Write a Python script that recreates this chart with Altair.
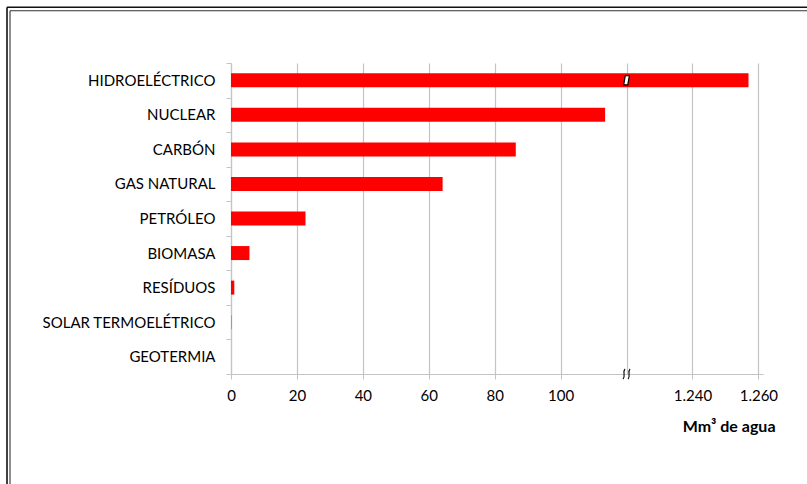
import altair as alt
import pandas as pd

# Water consumption by generation source (Mm³)
categorias = ["HIDROELÉCTRICO", "NUCLEAR", "CARBÓN", "GAS NATURAL", "PETRÓLEO",
              "BIOMASA", "RESÍDUOS", "SOLAR TERMOELÉTRICO", "GEOTERMIA"]
consumo = [1257, 113.5, 86.4, 64.2, 22.6, 5.6, 1.0, 0.1, 0.0]

# Broken x axis: everything past CORTE is drawn shifted left by SALTO
CORTE = 120
SALTO = 1100
marcas_x = list(range(0, 161, 10))

W, H = 532, 311
LEFT, TOP = 231, 63
FONT = "Lato"
GRID = "#c4c4c4"

df = pd.DataFrame({"fuente": categorias, "agua": consumo})

pos_expr = f"datum.agua > {CORTE} ? datum.agua - {SALTO} : datum.agua"
label_expr = (
    f"datum.value > {CORTE} ? replace(format(datum.value + {SALTO}, ','), ',', '.') : "
    f"(datum.value % 20 == 0 && datum.value != {CORTE} ? datum.label : '')"
)

x_enc = alt.X(
    "pos:Q",
    scale=alt.Scale(domain=[0, 161.4], nice=False, zero=True),
    axis=alt.Axis(
        values=marcas_x, grid=True, gridColor=GRID, gridWidth=1.2,
        domainColor=GRID, domainWidth=1.2, tickColor=GRID, tickSize=5,
        tickOpacity={"condition": {"test": f"datum.value % 20 == 0 && datum.value != {CORTE}",
                                   "value": 1}, "value": 0},
        labelExpr=label_expr, labelFont=FONT, labelFontSize=15, labelColor="black",
        labelPadding=9, labelFlush=False, labelOverlap=False,
        title="Mm³ de agua", titleFont=FONT, titleFontSize=16, titleFontWeight="bold",
        titleColor="black", titleX=544, titleY=57, titleAlign="right",
        titleAnchor="end", titleBaseline="alphabetic",
    ),
)

y_enc = alt.Y(
    "fuente:N", sort=categorias,
    scale=alt.Scale(paddingInner=0, paddingOuter=0),
    axis=alt.Axis(
        title=None, tickBand="extent", grid=False,
        domainColor=GRID, domainWidth=1.2, tickColor=GRID, tickSize=5,
        labelFont=FONT, labelFontSize=15, labelColor="black", labelPadding=11,
    ),
)

bars = alt.Chart(df).transform_calculate(pos=pos_expr).mark_bar(
    color="#ff0000", size=14
).encode(x=x_enc, y=y_enc)

# Break marker across the long bar
corte_barra = pd.DataFrame({"fuente": [categorias[0]], "agua": [CORTE]})
break_bar = alt.Chart(corte_barra).transform_calculate(pos="datum.agua").mark_point(
    shape="M -0.22 -0.8 L 0.5 -0.8 L 0.22 0.8 L -0.5 0.8 Z",
    size=130, filled=True, fill="white", stroke="black", strokeWidth=1.2, opacity=1,
).encode(x=alt.X("pos:Q"), y=alt.Y("fuente:N", sort=categorias))

# Break marker on the x axis line
corte_eje = pd.DataFrame({"agua": [CORTE]})
break_axis = alt.Chart(corte_eje).transform_calculate(pos="datum.agua").mark_point(
    shape="M -0.3 -1 C -0.9 -0.4 -0.1 0.4 -0.7 1 M 0.7 -1 C 0.1 -0.4 0.9 0.4 0.3 1",
    size=100, filled=False, stroke="black", strokeWidth=1.1, opacity=1,
).encode(x=alt.X("pos:Q"), y=alt.value(H))

# Double page frame
one = alt.Data(values=[{"k": 1}])
frame = [
    alt.Chart(one).mark_rule(color="#111111", strokeWidth=1.6).encode(
        x=alt.value(7 - LEFT), y=alt.value(7.3 - TOP), y2=alt.value(500 - TOP)),
    alt.Chart(one).mark_rule(color="#111111", strokeWidth=1.6).encode(
        x=alt.value(7 - LEFT), x2=alt.value(830 - LEFT), y=alt.value(7.3 - TOP)),
    alt.Chart(one).mark_rule(color="#333333", strokeWidth=1.1).encode(
        x=alt.value(10 - LEFT), y=alt.value(10.8 - TOP), y2=alt.value(500 - TOP)),
    alt.Chart(one).mark_rule(color="#333333", strokeWidth=1.1).encode(
        x=alt.value(10 - LEFT), x2=alt.value(830 - LEFT), y=alt.value(10.8 - TOP)),
]

chart = alt.layer(bars, break_bar, break_axis, *frame).properties(
    width=W, height=H,
    autosize=alt.AutoSizeParams(type="none"),
    padding={"left": LEFT, "top": TOP, "right": 807 - LEFT - W, "bottom": 484 - TOP - H},
    background="white",
).configure_view(stroke=None)

chart.save("out.html", embed_options={"renderer": "svg", "actions": False})
